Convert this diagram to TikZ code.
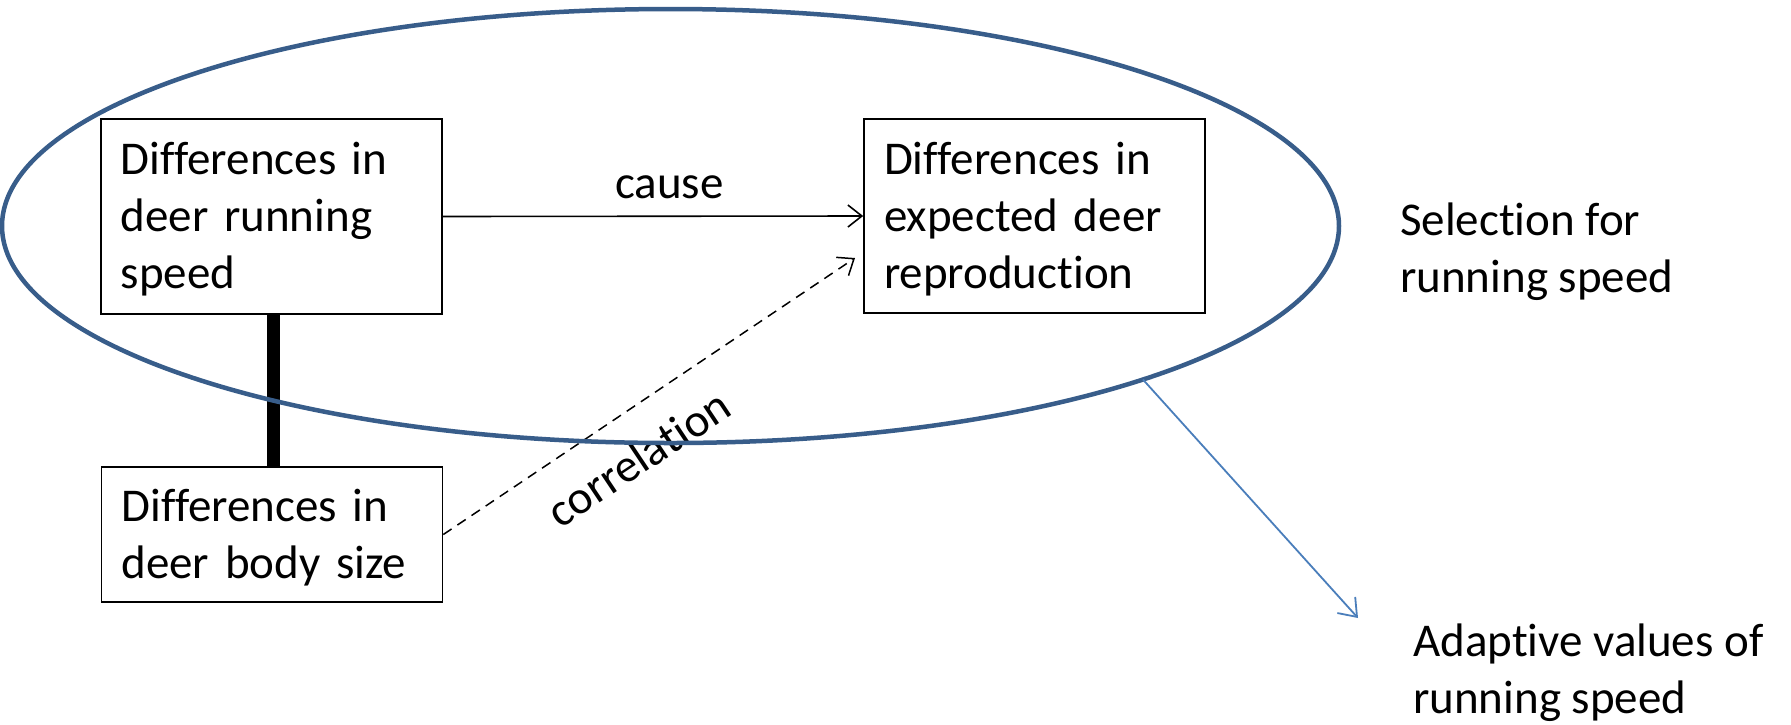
\documentclass[tikz,border=0pt]{standalone}
\usepackage{fontspec}
\setmainfont{Carlito}[Ligatures=NoCommon]
\usetikzlibrary{arrows.meta,shapes.geometric}
\definecolor{ellblue}{HTML}{385D8A}
\definecolor{arrblue}{HTML}{4A7EBB}
\newcommand{\lnstrut}{\rule[-13.5pt]{0pt}{57pt}}
\begin{document}
\begin{tikzpicture}[x=1pt,y=1pt,
  txtfont/.style={font=\fontsize{47}{57}\selectfont},
  box/.style={draw, line width=1.6pt, inner xsep=20pt, inner ysep=0pt,
    text width=301pt, align=left, txtfont},
  lbl/.style={txtfont, inner sep=0pt, align=left},
  tipv/.style={-{Straight Barb[length=14pt,width=22pt]}}
]
\fill[white] (0,0) rectangle (1791,-724);
\useasboundingbox (0,0) rectangle (1791,-724);

\node[box, minimum height=195pt] (b1) at (271.2,-216.5)
  {\lnstrut Differences in\\\lnstrut deer running\\\lnstrut speed};
\node[box, minimum height=194pt] (b2) at (1034.5,-216)
  {\lnstrut Differences in\\\lnstrut expected deer\\\lnstrut reproduction};
\node[box, minimum height=135pt] (b3) at (272,-534.5)
  {\lnstrut Differences in\\\lnstrut deer body size};

\coordinate (dend) at (855,-258);
\coordinate (aend) at (1358,-618);

\draw[line width=1.6pt, tipv] (b1.east) -- node[lbl, pos=0.539, anchor=base, yshift=18pt] (cause) {cause} (b2.west);
\draw[line width=1.5pt, dash pattern=on 10pt off 7pt, tipv] (b3.east) -- (dend);
\draw[line width=13pt] ([xshift=1.8pt]b1.south) -- ([xshift=1pt]b3.north);

\node[lbl, rotate=33.7, anchor=base] (corr) at (647.5,-471.5) {correlation};

\node[ellipse, draw=ellblue, line width=4.5pt, minimum width=1337pt, minimum height=434pt,
  inner sep=0pt, outer sep=0pt] (sel) at (670.5,-226) {};

\draw[arrblue, line width=1.8pt, -{Straight Barb[length=16pt,width=24pt]}] (sel.-18.1) -- (aend);

\node[lbl, anchor=north west] (seltext) at (1400,-191.5)
  {\lnstrut Selection for\\\lnstrut running speed};
\node[lbl, anchor=north west] (adapt) at (1413,-612.5)
  {\lnstrut Adaptive values of\\\lnstrut running speed};
\end{tikzpicture}
\end{document}
